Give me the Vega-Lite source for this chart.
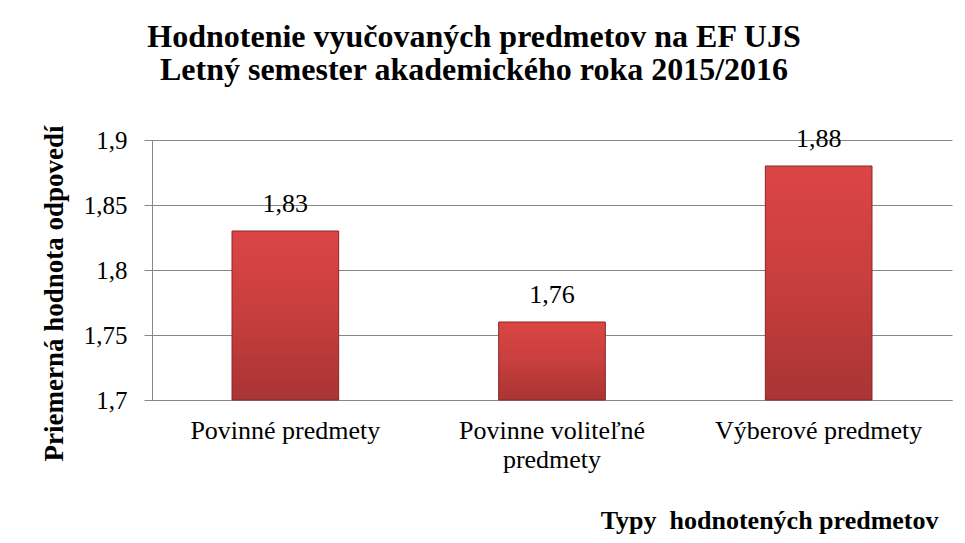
{
  "$schema": "https://vega.github.io/schema/vega-lite/v6.json",
  "autosize": {"type": "none"},
  "width": 800,
  "height": 260,
  "padding": {"left": 152, "top": 140, "right": 13, "bottom": 143},
  "background": "white",
  "title": {
    "text": ["Hodnotenie vyučovaných predmetov na EF UJS", "Letný semester akademického roka 2015/2016"],
    "font": "Liberation Serif",
    "fontSize": 32,
    "fontWeight": "bold",
    "color": "black",
    "lineHeight": 33,
    "anchor": "middle",
    "dx": -78,
    "offset": 38
  },
  "data": {
    "values": [
      {"typ": "Povinné predmety", "hodnota": 1.83},
      {"typ": "Povinne voliteľné predmety", "hodnota": 1.76},
      {"typ": "Výberové predmety", "hodnota": 1.88}
    ]
  },
  "encoding": {
    "x": {
      "field": "typ",
      "type": "nominal",
      "sort": null,
      "scale": {"paddingInner": 0.6, "paddingOuter": 0.3},
      "axis": {
        "title": "Typy\u00a0 hodnotených predmetov",
        "titleFont": "Liberation Serif",
        "titleFontSize": 26,
        "titleFontWeight": "bold",
        "titleColor": "black",
        "titleAnchor": "end",
        "titleAlign": "right",
        "titleBaseline": "alphabetic",
        "titleX": 786,
        "titleY": 128,
        "labelAngle": 0,
        "labelFont": "Liberation Serif",
        "labelFontSize": 26,
        "labelColor": "black",
        "labelLineHeight": 29,
        "labelPadding": 17,
        "labelLimit": 400,
        "labelExpr": "datum.label == 'Povinne voliteľné predmety' ? ['Povinne voliteľné', 'predmety'] : datum.label",
        "ticks": false,
        "domainColor": "#868686",
        "domainWidth": 1
      }
    },
    "y": {
      "field": "hodnota",
      "type": "quantitative",
      "scale": {"domain": [1.7, 1.9], "nice": false, "zero": false},
      "axis": {
        "values": [1.7, 1.75, 1.8, 1.85, 1.9],
        "format": ".2~f",
        "title": "Priemerná hodnota odpovedí",
        "titleFont": "Liberation Serif",
        "titleFontSize": 27,
        "titleFontWeight": "bold",
        "titleColor": "black",
        "titleAlign": "center",
        "titleBaseline": "alphabetic",
        "titleAngle": -90,
        "titleX": -90,
        "titleY": 153,
        "labelFont": "Liberation Serif",
        "labelFontSize": 25,
        "labelColor": "black",
        "labelPadding": 17,
        "tickSize": 8,
        "tickColor": "#868686",
        "domainColor": "#868686",
        "gridColor": "#868686",
        "gridWidth": 1,
        "grid": true
      }
    }
  },
  "layer": [
    {
      "mark": {
        "type": "bar",
        "color": {
          "gradient": "linear",
          "x1": 0, "y1": 0, "x2": 0, "y2": 1,
          "stops": [
            {"offset": 0, "color": "#dc4545"},
            {"offset": 0.5, "color": "#c83e3e"},
            {"offset": 1, "color": "#aa3434"}
          ]
        },
        "stroke": "#8a2626",
        "strokeWidth": 1
      },
      "encoding": {
        "y2": {"datum": 1.7}
      }
    },
    {
      "mark": {
        "type": "text",
        "font": "Liberation Serif",
        "fontSize": 26,
        "color": "black",
        "baseline": "alphabetic",
        "dy": -19
      },
      "encoding": {
        "text": {"field": "hodnota", "type": "quantitative", "format": ".2f"}
      }
    }
  ],
  "config": {
    "locale": {
      "number": {"decimal": ",", "thousands": " ", "grouping": [3], "currency": ["", " €"]}
    },
    "view": {"stroke": null}
  }
}
